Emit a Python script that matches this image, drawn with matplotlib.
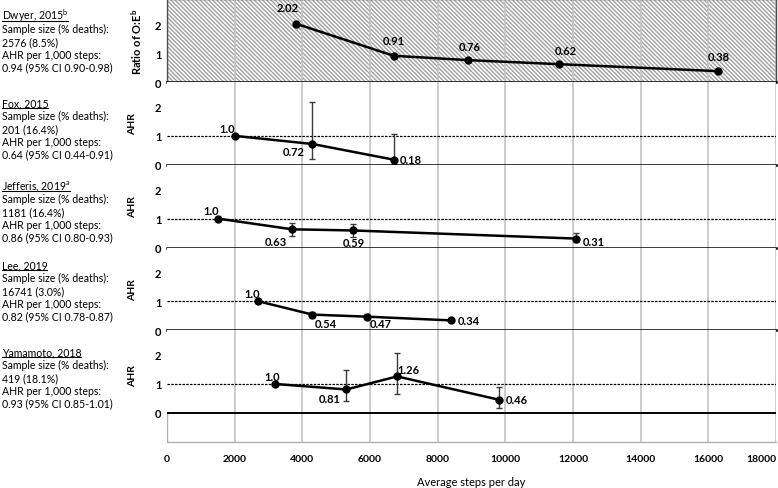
import numpy as np
import matplotlib
matplotlib.use("Agg")
from matplotlib import pyplot as plt
from matplotlib.patches import Rectangle
from matplotlib.lines import Line2D

FONT = ['Lato', 'DejaVu Sans']
plt.rcParams['font.family'] = FONT
plt.rcParams['hatch.linewidth'] = 1.0
plt.rcParams['mathtext.fontset'] = 'custom'
plt.rcParams['mathtext.rm'] = 'Lato'
plt.rcParams['mathtext.bf'] = 'Lato:bold'

# study info text
studies = [r"Dwyer, 2015$^{\mathrm{b}}$", "Fox, 2015", r"Jefferis, 2019$^{\mathrm{a}}$",
           "Lee, 2019", "Yamamoto, 2018"]
samples = ["2576 (8.5%)", "201 (16.4%)", "1181 (16.4%)", "16741 (3.0%)", "419 (18.1%)"]
ahr_per_1000 = ["0.94 (95% CI 0.90-0.98)", "0.64 (95% CI 0.44-0.91)",
                "0.86 (95% CI 0.80-0.93)", "0.82 (95% CI 0.78-0.87)",
                "0.93 (95% CI 0.85-1.01)"]
ylabels = [r"Ratio of O:E$^{\mathbf{b}}$", "AHR", "AHR", "AHR", "AHR"]

# average steps per day and estimates (nan = no CI shown)
dwyer_steps = [3800, 6700, 8900, 11600, 16300]
dwyer_val = [2.02, 0.91, 0.76, 0.62, 0.38]
dwyer_lo = [np.nan] * 5
dwyer_hi = [np.nan] * 5

fox_steps = [2000, 4300, 6700]
fox_val = [1.0, 0.72, 0.18]
fox_lo = [np.nan, 0.22, 0.03]
fox_hi = [np.nan, 2.17, 1.05]

jef_steps = [1500, 3700, 5500, 12100]
jef_val = [1.0, 0.63, 0.59, 0.31]
jef_lo = [np.nan, 0.41, 0.38, 0.19]
jef_hi = [np.nan, 0.86, 0.83, 0.51]

lee_steps = [2700, 4300, 5900, 8400]
lee_val = [1.0, 0.54, 0.47, 0.34]
lee_lo = [np.nan, 0.46, 0.40, 0.27]
lee_hi = [np.nan, 0.64, 0.56, 0.43]

yam_steps = [3200, 5300, 6800, 9800]
yam_val = [1.0, 0.81, 1.26, 0.46]
yam_lo = [np.nan, 0.41, 0.66, 0.17]
yam_hi = [np.nan, 1.47, 2.07, 0.90]

series = [
    (dwyer_steps, dwyer_val, dwyer_lo, dwyer_hi),
    (fox_steps, fox_val, fox_lo, fox_hi),
    (jef_steps, jef_val, jef_lo, jef_hi),
    (lee_steps, lee_val, lee_lo, lee_hi),
    (yam_steps, yam_val, yam_lo, yam_hi),
]

xticks = list(range(0, 18001, 2000))

# label offsets in pixels (dx, dy)
label_offsets = [
    [(-8, 16), (0, 15), (2, 14), (6, 14), (0, 15)],
    [(-8, 7), (-19, -8), (17, 0)],
    [(-7, 8), (-16, -12), (1, -12), (17, -3)],
    [(-6, 8), (13, -9), (14, -7), (18, 0)],
    [(-3, 7), (-17, -9), (11, 7), (18, 0)],
]

W, H = 778, 489
fig = plt.figure(figsize=(W / 100, H / 100), dpi=100)
gs = fig.add_gridspec(5, 1, height_ratios=[2.85] * 4 + [3.85], hspace=0,
                      left=167 / W, right=776 / W, top=0.999, bottom=1 - 443 / H)

for i in range(5):
    ax = fig.add_subplot(gs[i])
    steps, val, lo, hi = series[i]
    val = np.array(val)
    lo = np.array(lo)
    hi = np.array(hi)

    ax.set_xlim(0, 18000)
    if i < 4:
        ax.set_ylim(0, 2.85)
    else:
        ax.set_ylim(-1, 2.85)

    # vertical grid
    for gx in xticks[1:]:
        ax.axvline(gx, color='#c4c4c4', lw=1.2, zorder=0.5)

    if i == 0:
        ax.add_patch(Rectangle((0, 0), 1, 1, transform=ax.transAxes,
                               facecolor='white', edgecolor='#a0a0a0',
                               hatch='\\' * 8, lw=0, zorder=0.2))
        for s in ['top', 'left', 'right']:
            ax.spines[s].set_color('#505050')
            ax.spines[s].set_linewidth(1.0)
    else:
        for s in ['top', 'left', 'right']:
            ax.spines[s].set_visible(False)
        ax.axhline(1, color='black', lw=0.9, ls=(0, (2, 1)), zorder=1)

    if i < 4:
        ax.spines['bottom'].set_color('black')
        ax.spines['bottom'].set_linewidth(1.8)
        ax.spines['bottom'].set_zorder(3)
    else:
        ax.axhline(0, color='black', lw=1.4, zorder=1)
        ax.spines['bottom'].set_color('#b0b0b0')
        ax.spines['bottom'].set_linewidth(1.0)
        ax.axvline(0, ymin=0, ymax=1 / 3.85, color='#b0b0b0', lw=1.0, zorder=0.5)

    # error bars
    ax.errorbar(steps, val, yerr=[val - lo, hi - val], fmt='none',
                ecolor='#3a3a3a', elinewidth=1.0, capsize=2.5, capthick=1.0, zorder=2)
    ax.plot(steps, val, '-o', color='black', lw=1.8, ms=5, zorder=4)

    for (xs, v), (dx, dy) in zip(zip(steps, val), label_offsets[i]):
        txt = "1.0" if v == 1.0 else f"{v:.2f}"
        ax.annotate(txt, (xs, v), xytext=(dx, dy), textcoords='offset pixels',
                    ha='center', va='center', fontsize=8, fontweight='bold', zorder=5)

    ax.set_yticks([0, 1, 2])
    ax.set_yticklabels(['0', '1', '2'], fontweight='bold', fontsize=8)
    ax.tick_params(axis='y', length=0, pad=4)
    if i == 0:
        ax.set_ylabel(ylabels[i], fontweight='bold', fontsize=8)
        ax.yaxis.set_label_coords(-0.037, 0.5)
    else:
        ax.set_ylabel(ylabels[i], fontweight='bold', fontsize=7.5)
        ax.yaxis.set_label_coords(-0.049, 0.5 if i < 4 else 0.6)

    if i < 4:
        ax.set_xticks([])
    else:
        ax.set_xticks(xticks)
        labs = ax.set_xticklabels([str(t) for t in xticks], fontweight='bold', fontsize=7.5)
        labs[-1].set_horizontalalignment('right')
        ax.tick_params(axis='x', length=0, pad=9)
        ax.set_xlabel("Average steps per day", fontsize=8, labelpad=9)

# study info blocks on the left
title_y = [17, 104, 187, 266, 353]
line_gap = 12.8
titles = []
for i in range(5):
    y0 = title_y[i]
    t = fig.text(0.002, 1 - y0 / H, studies[i], fontsize=7.6, va='baseline', ha='left')
    t.set_y(1 - (y0 + 3.5) / H)
    titles.append(t)
    rows = ["Sample size (% deaths):", samples[i], "AHR per 1,000 steps:", ahr_per_1000[i]]
    for k, r in enumerate(rows):
        fig.text(0.002, 1 - (y0 + line_gap * (k + 1)) / H, r, fontsize=7.6,
                 va='center', ha='left')

# underline study names, just under the baseline
fig.canvas.draw()
renderer = fig.canvas.get_renderer()
for t in titles:
    bb = t.get_window_extent(renderer)
    yy = t.get_position()[1] * H - 1.5
    fig.add_artist(Line2D([bb.x0 / W, bb.x1 / W], [yy / H, yy / H],
                          transform=fig.transFigure, color='black', lw=0.8))

fig.savefig("out.png", dpi=100)
